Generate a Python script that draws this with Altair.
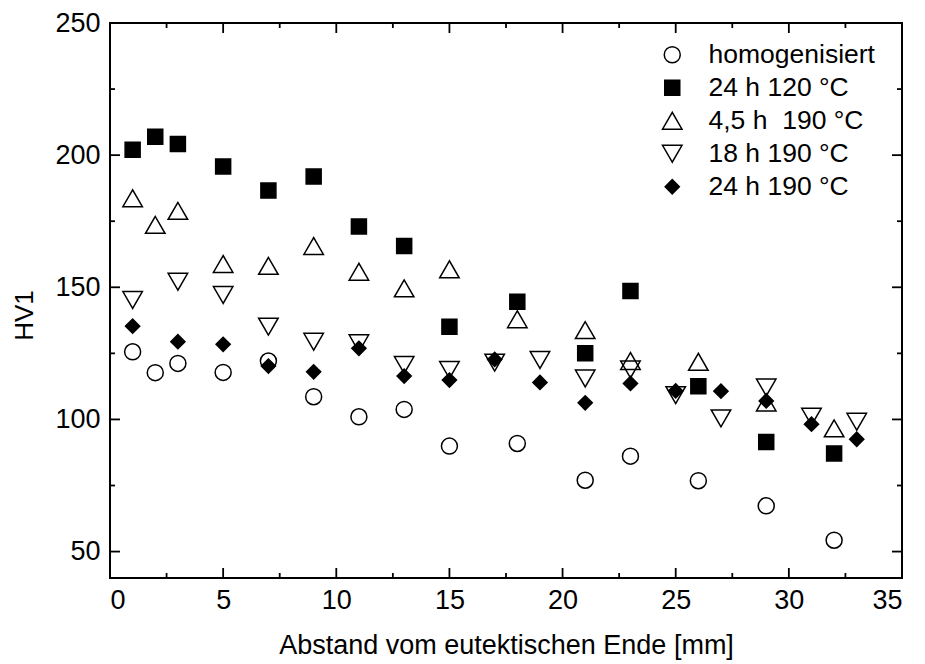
import altair as alt
import pandas as pd

# Hardness HV1 measured along the sample, for five heat-treatment states
series_names = ["homogenisiert", "24 h 120 °C", "4,5 h\u00a0 190 °C", "18 h 190 °C", "24 h 190 °C"]

x_homog = [1, 2, 3, 5, 7, 9, 11, 13, 15, 18, 21, 23, 26, 29, 32]
hv_homog = [125.6, 117.7, 121.2, 117.8, 122.1, 108.6, 101.0, 103.8, 89.9, 90.9, 77.0, 86.1, 76.8, 67.3, 54.3]

x_120 = [1, 2, 3, 5, 7, 9, 11, 13, 15, 18, 21, 23, 26, 29, 32]
hv_120 = [202.0, 207.0, 204.2, 195.7, 186.6, 191.9, 173.0, 165.6, 135.1, 144.5, 125.0, 148.6, 112.6, 91.5, 87.1]

x_45h = [1, 2, 3, 5, 7, 9, 11, 13, 15, 18, 21, 23, 26, 29, 32]
hv_45h = [183.7, 173.6, 178.9, 158.8, 158.1, 165.6, 155.9, 149.6, 156.8, 137.9, 133.8, 122.1, 121.8, 106.4, 96.6]

x_18h = [1, 3, 5, 7, 9, 11, 13, 15, 17, 19, 21, 23, 25, 27, 29, 31, 33]
hv_18h = [145.2, 152.1, 147.1, 135.1, 129.4, 128.8, 120.6, 118.7, 121.5, 122.5, 115.5, 118.9, 109.2, 100.4, 112.1, 101.0, 99.1]

x_24h = [1, 3, 5, 7, 9, 11, 13, 15, 17, 19, 21, 23, 25, 27, 29, 31, 33]
hv_24h = [135.3, 129.4, 128.4, 120.2, 118.0, 126.9, 116.4, 114.9, 122.7, 114.0, 106.3, 113.6, 110.8, 110.7, 107.0, 98.2, 92.5]

x_major = [0, 5, 10, 15, 20, 25, 30, 35]
x_minor = [2.5, 7.5, 12.5, 17.5, 22.5, 27.5, 32.5]
y_major = [50, 100, 150, 200, 250]
y_minor = [75, 125, 175, 225]

shapes = ["circle", "square", "triangle-up", "triangle-down", "diamond"]
fills = ["transparent", "black", "transparent", "transparent", "black"]
strokes = ["black"] * 5
sizes = [256, 225, 380, 380, 200]

W, H = 792, 555
FONT = "Liberation Sans"

frames = []
for name, xs, ys in zip(series_names,
                        [x_homog, x_120, x_45h, x_18h, x_24h],
                        [hv_homog, hv_120, hv_45h, hv_18h, hv_24h]):
    frames.append(pd.DataFrame({"x": xs, "hv": ys, "series": name}))
df = pd.concat(frames, ignore_index=True)
df["idx"] = range(len(df))

x_scale = alt.Scale(domain=[0, 35], nice=False, zero=False)
y_scale = alt.Scale(domain=[40, 250], nice=False, zero=False)

legend = alt.Legend(
    title=None, orient="none", legendX=549, legendY=18.5, padding=0,
    labelFont=FONT, labelFontSize=26.5, labelColor="black", labelOffset=23,
    labelLimit=400, rowPadding=6, symbolStrokeColor="black", symbolStrokeWidth=1.5,
    symbolOpacity=1,
)

x_axis = alt.Axis(
    values=x_major, ticks=False, tickSize=0, domain=False, grid=False,
    labelFont=FONT, labelFontSize=27, labelColor="black", labelPadding=9,
    titleFont=FONT, titleFontSize=27, titleFontWeight="normal", titleColor="black",
    titleY=75, titleBaseline="alphabetic",
)
y_axis = alt.Axis(
    values=y_major, ticks=False, tickSize=0, domain=False, grid=False,
    labelFont=FONT, labelFontSize=27, labelColor="black", labelPadding=10,
    titleFont=FONT, titleFontSize=26, titleFontWeight="normal", titleColor="black",
    titleX=-78, titleY=292, titleBaseline="alphabetic", titleAlign="center", titleAngle=270,
)

points = alt.Chart(df).mark_point(filled=True, strokeWidth=1.5, opacity=1).encode(
    x=alt.X("x:Q", scale=x_scale, axis=x_axis, title="Abstand vom eutektischen Ende [mm]"),
    y=alt.Y("hv:Q", scale=y_scale, axis=y_axis, title="HV1"),
    shape=alt.Shape("series:N", scale=alt.Scale(domain=series_names, range=shapes), legend=legend),
    fill=alt.Fill("series:N", scale=alt.Scale(domain=series_names, range=fills), legend=legend),
    stroke=alt.Stroke("series:N", scale=alt.Scale(domain=series_names, range=strokes), legend=legend),
    size=alt.Size("series:N", scale=alt.Scale(type="ordinal", domain=series_names, range=sizes), legend=legend),
    order=alt.Order("idx:Q"),
)

# inward tick marks on all four sides of the frame
xmaj = pd.DataFrame({"t": x_major})
xmin = pd.DataFrame({"t": x_minor})
ymaj = pd.DataFrame({"t": y_major})
ymin = pd.DataFrame({"t": y_minor})


def xticks(data, length):
    base = alt.Chart(data).mark_rule(color="black", strokeWidth=1.8)
    bottom = base.encode(x=alt.X("t:Q", scale=x_scale), y=alt.value(H), y2=alt.value(H - length))
    top = base.encode(x=alt.X("t:Q", scale=x_scale), y=alt.value(0), y2=alt.value(length))
    return [bottom, top]


def yticks(data, length):
    base = alt.Chart(data).mark_rule(color="black", strokeWidth=1.8)
    left = base.encode(y=alt.Y("t:Q", scale=y_scale), x=alt.value(0), x2=alt.value(length))
    right = base.encode(y=alt.Y("t:Q", scale=y_scale), x=alt.value(W), x2=alt.value(W - length))
    return [left, right]


tick_layers = xticks(xmaj, 10) + xticks(xmin, 5) + yticks(ymaj, 10) + yticks(ymin, 5)

chart = alt.layer(*tick_layers, points).properties(
    width=W, height=H,
    autosize=alt.AutoSizeParams(type="none"),
    padding={"left": 110, "top": 23, "right": 23, "bottom": 86},
    background="white",
).configure_view(stroke="black", strokeWidth=2)

chart.save("out.html", embed_options={"renderer": "svg", "actions": False})
